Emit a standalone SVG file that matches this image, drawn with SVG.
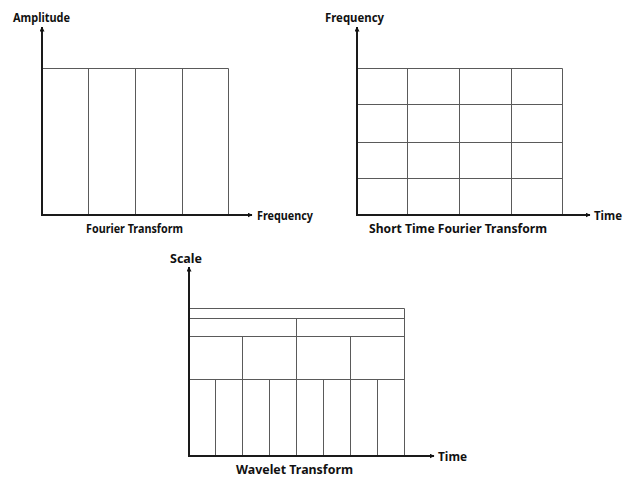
<svg xmlns="http://www.w3.org/2000/svg" width="632" height="479" viewBox="0 0 632 479">
<defs>
<marker id="ah" viewBox="0 0 10 10" refX="9" refY="5" markerWidth="5" markerHeight="5" markerUnits="userSpaceOnUse" orient="auto">
<path d="M0,0 L10,5 L0,10 z" fill="#111"/>
</marker>
<style>
.ax{stroke:#1a1a1a;stroke-width:2;fill:none}
.g{stroke:#5a5a5a;stroke-width:1;fill:none}
.t{font-family:"Noto Sans","Liberation Sans",sans-serif;font-weight:bold;font-size:13px;fill:#111}
</style>
</defs>
<rect width="632" height="479" fill="#fff"/>
<g id="fourier">
<path class="g" d="M42.5,68.5 H228.5 V215 M88.5,68.5 V215 M135.5,68.5 V215 M182.5,68.5 V215"/>
<text class="t" x="13" y="22" textLength="57" lengthAdjust="spacingAndGlyphs">Amplitude</text>
<text class="t" x="257" y="220" textLength="56" lengthAdjust="spacingAndGlyphs">Frequency</text>
<text class="t" x="86" y="233" textLength="97" lengthAdjust="spacingAndGlyphs">Fourier Transform</text>
</g>
<g id="stft">
<path class="g" d="M357,68.5 H562.5 V215 M407.5,68.5 V215 M459.5,68.5 V215 M511.5,68.5 V215 M357,104.5 H562.5 M357,142.5 H562.5 M357,178.5 H562.5"/>
<text class="t" x="325" y="22" textLength="59" lengthAdjust="spacingAndGlyphs">Frequency</text>
<text class="t" x="594" y="220" textLength="28" lengthAdjust="spacingAndGlyphs">Time</text>
<text class="t" x="369" y="233" textLength="178" lengthAdjust="spacingAndGlyphs">Short Time Fourier Transform</text>
</g>
<g id="wavelet">
<path class="g" d="M189,308.5 H404.5 V456 M189,318.5 H404.5 M189,336.5 H404.5 M189,379.5 H404.5 M296.5,318.5 V456 M242.5,336.5 V456 M350.5,336.5 V456 M215.5,379.5 V456 M269.5,379.5 V456 M323.5,379.5 V456 M377.5,379.5 V456"/>
<text class="t" x="170" y="263" textLength="32" lengthAdjust="spacingAndGlyphs">Scale</text>
<text class="t" x="438" y="461" textLength="29" lengthAdjust="spacingAndGlyphs">Time</text>
<text class="t" x="236" y="474" textLength="117" lengthAdjust="spacingAndGlyphs">Wavelet Transform</text>
</g>
<g id="connectors">
<path class="ax" d="M42,216 V27" marker-end="url(#ah)"/>
<path class="ax" d="M41,215 H252" marker-end="url(#ah)"/>
<path class="ax" d="M357,216 V27" marker-end="url(#ah)"/>
<path class="ax" d="M356,215 H590" marker-end="url(#ah)"/>
<path class="ax" d="M189,457 V267" marker-end="url(#ah)"/>
<path class="ax" d="M188,456 H434" marker-end="url(#ah)"/>
</g>
</svg>
